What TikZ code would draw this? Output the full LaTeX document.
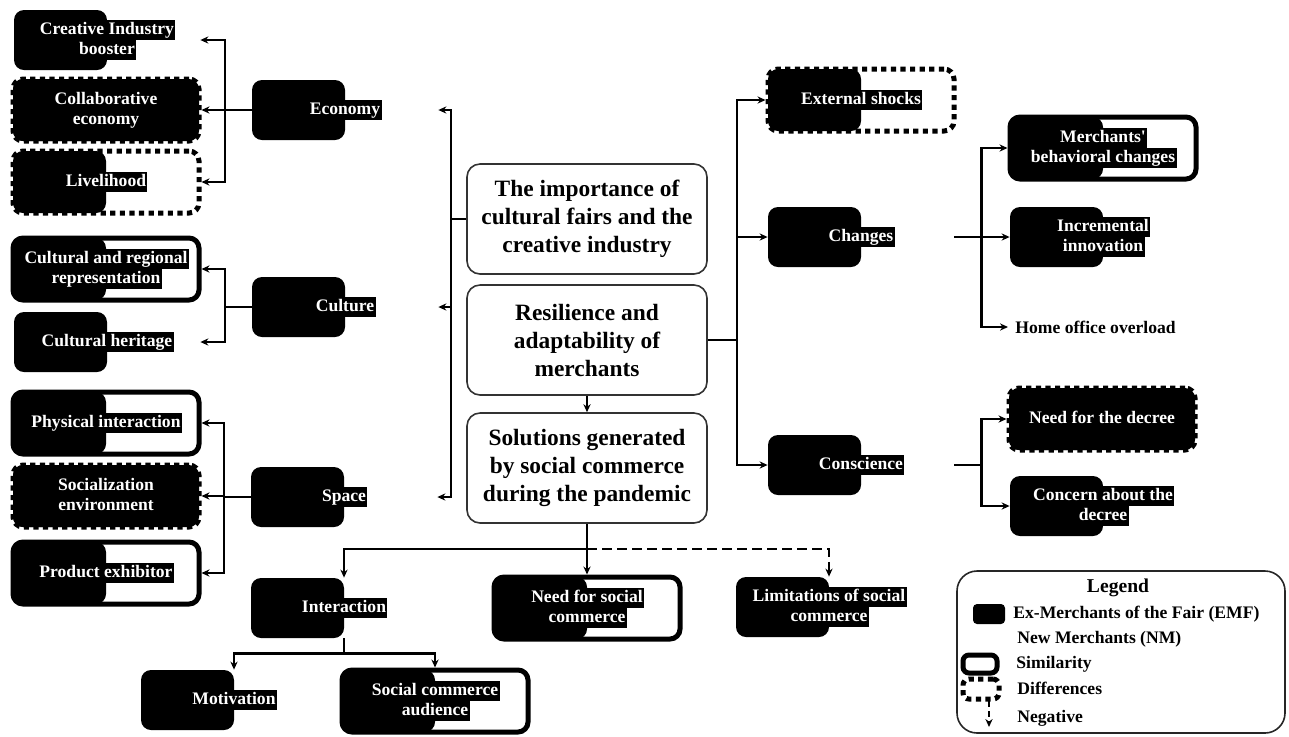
\documentclass[tikz,border=0pt]{standalone}
\usepackage{fontspec}
\setmainfont{Liberation Serif}
\usepackage{tikz}
\usetikzlibrary{arrows.meta, positioning, calc}
\newcommand{\hl}[1]{{\setlength{\fboxsep}{0pt}\colorbox{black}{\hspace{0.7pt}\rule[-2.6pt]{0pt}{10pt}#1\hspace{0.7pt}}}}

\begin{document}
\begin{tikzpicture}[x=0.5pt, y=-0.5pt,
  halfbox/.style={rectangle, rounded corners=5pt, minimum width=93pt, minimum height=30pt, inner sep=1pt, align=center, text=white, font=\bfseries\fontsize{8.8}{10}\selectfont, path picture={\fill[black] (path picture bounding box.south west) rectangle (path picture bounding box.north);}},
  simbox/.style={halfbox, draw=black, line width=2.5pt, minimum height=31pt},
  difbox/.style={halfbox, draw=black, line width=2.5pt, dash pattern=on 2.6pt off 2.2pt, minimum height=31pt},
  fullbox/.style={fill=black},
  mainbox/.style={rectangle, rounded corners=6.5pt, draw=black!80, line width=0.8pt, minimum width=120pt, minimum height=55pt, align=center, font=\bfseries\fontsize{11.7}{14}\selectfont},
  link/.style={line width=1.1pt},
  arr/.style={link, -{Stealth[length=4pt, width=3.6pt]}},
  negarr/.style={arr, dash pattern=on 5pt off 2.5pt},
  legtext/.style={anchor=west, inner sep=0pt, font=\bfseries\fontsize{8.8}{10}\selectfont}
]
  \useasboundingbox (0,0) rectangle (1289,736);

  \node[halfbox] (cib) at (107,40) {\hl{Creative Industry}\\\hl{booster}};
  \node[difbox, fullbox] (col) at (106,110) {\hl{Collaborative}\\\hl{economy}};
  \node[difbox] (liv) at (106,182) {\hl{Livelihood}};
  \node[simbox] (crr) at (106,269) {\hl{Cultural and regional}\\\hl{representation}};
  \node[halfbox] (chr) at (107,342) {\hl{Cultural heritage}};
  \node[simbox] (phy) at (106,423) {\hl{Physical interaction}};
  \node[difbox, fullbox] (soc) at (106,496) {\hl{Socialization}\\\hl{environment}};
  \node[simbox] (pex) at (106,573) {\hl{Product exhibitor}};

  \node[halfbox] (eco) at (345,110) {\hl{Economy}};
  \node[halfbox] (cul) at (345,307) {\hl{Culture}};
  \node[halfbox] (spa) at (344,497) {\hl{Space}};

  \node[mainbox] (imp) at (587,219) {The importance of\\cultural fairs and the\\creative industry};
  \node[mainbox] (res) at (587,340) {Resilience and\\adaptability of\\merchants};
  \node[mainbox] (sol) at (587,468) {Solutions generated\\by social commerce\\during the pandemic};

  \node[halfbox] (int) at (344,608) {\hl{Interaction}};
  \node[simbox] (nsc) at (587,608) {\hl{Need for social}\\\hl{commerce}};
  \node[halfbox] (lim) at (829,607) {\hl{Limitations of social}\\\hl{commerce}};
  \node[halfbox] (mot) at (234,700) {\hl{Motivation}};
  \node[simbox] (sca) at (435,701) {\hl{Social commerce}\\\hl{audience}};

  \node[difbox] (ext) at (861,100) {\hl{External shocks}};
  \node[halfbox] (chg) at (861,237) {\hl{Changes}};
  \node[halfbox] (con) at (861,465) {\hl{Conscience}};
  \node[simbox] (mbc) at (1103,148) {\hl{Merchants\textquotesingle}\\\hl{behavioral changes}};
  \node[halfbox] (inc) at (1103,237) {\hl{Incremental}\\\hl{innovation}};
  \node[legtext, inner xsep=3.5pt] (hoo) at (1008,327) {Home office overload};
  \node[difbox, fullbox] (nfd) at (1102,419) {\hl{Need for the decree}};
  \node[halfbox] (cad) at (1103,506) {\hl{Concern about the}\\\hl{decree}};

  \draw[link] (eco.west) -- ++(-27,0) coordinate (ecoj);
  \draw[arr] (ecoj) |- (cib.east);
  \draw[arr] (ecoj) -- (col.east);
  \draw[arr] (ecoj) |- (liv.east);
  \draw[link] (cul.west) -- ++(-27,0) coordinate (culj);
  \draw[arr] (culj) |- (crr.east);
  \draw[arr] (culj) |- (chr.east);
  \draw[link] (spa.west) -- ++(-27,0) coordinate (spaj);
  \draw[arr] (spaj) |- (phy.east);
  \draw[arr] (spaj) |- (soc.east);
  \draw[arr] (spaj) |- (pex.east);

  \draw[link] (imp.west) -- ++(-15,0) coordinate (impj);
  \draw[arr] (impj) |- (eco.east);
  \draw[arr] (impj) |- (cul.east);
  \draw[arr] (impj) |- (spa.east);
  \draw[link] (res.east) -- ++(29,0) coordinate (resj);
  \draw[arr] (resj) |- (ext.west);
  \draw[arr] (resj) |- (chg.west);
  \draw[arr] (resj) |- (con.west);
  \draw[arr] (res.south) -- (sol.north);

  \draw[link] (sol.south) -- ++(0,25) coordinate (solj);
  \draw[arr] (solj) -| (int.north);
  \draw[arr] (solj) -- (nsc.north);
  \draw[negarr] (solj) -| (lim.north);
  \draw[link] (int.south) -- ++(0,15) coordinate (intj);
  \draw[arr] (intj) -| (mot.north);
  \draw[arr] (intj) -| (sca.north);

  \draw[link] (chg.east) -- ++(27,0) coordinate (chgj);
  \draw[arr] (chgj) |- (mbc.west);
  \draw[arr] (chgj) |- (inc.west);
  \draw[arr] (chgj) |- (hoo.west);
  \draw[link] (con.east) -- ++(27,0) coordinate (conj);
  \draw[arr] (conj) |- (nfd.west);
  \draw[arr] (conj) |- (cad.west);

  \node[draw=black!85, line width=0.8pt, rounded corners=10pt, minimum width=164pt, minimum height=81pt] (leg) at (1121,652) {};
  \node[font=\bfseries\fontsize{9.8}{11}\selectfont] (legt) at (1118,588) {Legend};
  \node[fill=black, rounded corners=2pt, minimum width=16pt, minimum height=10pt, inner sep=0pt] (ic1) at (989,614) {};
  \node[legtext] (l1) at (1013,614) {Ex-Merchants of the Fair (EMF)};
  \node[legtext] (l2) at (1017,639) {New Merchants (NM)};
  \node[draw, line width=2.5pt, rounded corners=3pt, minimum width=17pt, minimum height=9pt, inner sep=0pt] (ic2) at (980,664) {};
  \node[legtext] (l3) at (1016,664) {Similarity};
  \node[draw, line width=2.5pt, dash pattern=on 2.6pt off 2.2pt, rounded corners=3pt, minimum width=18pt, minimum height=10pt, inner sep=0pt] (ic3) at (981,689) {};
  \node[legtext] (l4) at (1017,688) {Differences};
  \coordinate (neg1) at (989,701);
  \coordinate (neg2) at (989,727);
  \draw[negarr, line width=0.9pt, dash pattern=on 3pt off 2pt] (neg1) -- (neg2);
  \node[legtext] (l5) at (1017,718) {Negative};
\end{tikzpicture}
\end{document}
